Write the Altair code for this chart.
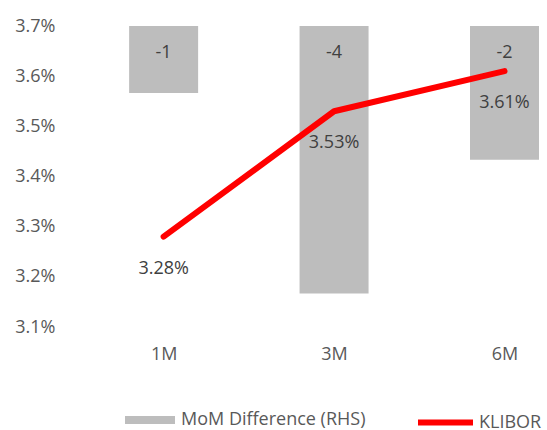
import altair as alt
import pandas as pd

tenors = ["1M", "3M", "6M"]
klibor = [3.28, 3.53, 3.61]
mom_diff = [-1, -4, -2]

FONT = "Open Sans"
AXIS_GREY = "#595959"
TEXT_DARK = "#404040"
FS = 18

df = pd.DataFrame({
    "idx": list(range(len(tenors))),
    "tenor": tenors,
    "klibor": klibor,
    "mom": mom_diff,
})
df["zero"] = 0
df["klibor_label"] = [f"{v:.2f}%" for v in klibor]
df["mom_label"] = [str(v) for v in mom_diff]
df["bar_series"] = "MoM Difference (RHS)"
df["line_series"] = "KLIBOR"

label_expr = "[" + ",".join(f"'{t}'" for t in tenors) + "][datum.value]"

x_scale = alt.Scale(domain=[-0.52, 2.22], nice=False, zero=False)
x_axis = alt.Axis(values=list(range(len(tenors))), labelExpr=label_expr, title=None,
                  grid=False, domain=False, ticks=False, labelPadding=18,
                  labelFont=FONT, labelFontSize=FS, labelColor=AXIS_GREY)
x_enc = alt.X("idx:Q", scale=x_scale, axis=x_axis)

rhs_scale = alt.Scale(domain=[-4.5, 0], nice=False, zero=False)
lhs_scale = alt.Scale(domain=[3.1, 3.7], nice=False, zero=False)

base = alt.Chart(df)

bars = base.mark_bar(size=69).encode(
    x=x_enc,
    y=alt.Y("mom:Q", scale=rhs_scale, axis=None),
    y2=alt.Y2("zero:Q"),
    color=alt.Color("bar_series:N",
                    scale=alt.Scale(domain=["MoM Difference (RHS)"], range=["#BDBDBD"]),
                    legend=alt.Legend(orient="none", legendX=55, legendY=369, title=None,
                                      symbolType="M-1,-0.16H1V0.16H-1Z", symbolSize=2500,
                                      symbolStrokeWidth=0, labelFont=FONT, labelFontSize=FS,
                                      labelColor=AXIS_GREY, labelOffset=6, padding=0,
                                      labelLimit=400)),
)

bar_text = base.mark_text(font=FONT, fontSize=FS, color=TEXT_DARK, dy=27, baseline="middle").encode(
    x=x_enc,
    y=alt.Y("zero:Q", scale=rhs_scale, axis=None),
    text="mom_label:N",
)

line = base.mark_line(strokeWidth=6, strokeCap="round", strokeJoin="round").encode(
    x=x_enc,
    y=alt.Y("klibor:Q", scale=lhs_scale,
            axis=alt.Axis(values=[3.1, 3.2, 3.3, 3.4, 3.5, 3.6, 3.7],
                          labelExpr="format(datum.value, '.1f') + '%'",
                          title=None, grid=False, domain=False, ticks=False, labelPadding=15,
                          labelFont=FONT, labelFontSize=FS, labelColor=AXIS_GREY)),
    stroke=alt.Stroke("line_series:N",
                      scale=alt.Scale(domain=["KLIBOR"], range=["#FF0000"]),
                      legend=alt.Legend(orient="none", legendX=345, legendY=366, title=None,
                                        symbolType="stroke", symbolSize=3025,
                                        symbolStrokeWidth=6, labelFont=FONT, labelFontSize=FS,
                                        labelColor=AXIS_GREY, labelOffset=3, padding=0,
                                        labelLimit=400)),
)

line_text = base.mark_text(font=FONT, fontSize=FS, color=TEXT_DARK, dy=32, baseline="middle").encode(
    x=x_enc,
    y=alt.Y("klibor:Q", scale=lhs_scale, axis=None),
    text="klibor_label:N",
)

chart = alt.layer(bars, bar_text, line, line_text).resolve_scale(
    y="independent"
).properties(
    width=477,
    height=301,
    autosize=alt.AutoSizeParams(type="none"),
    padding={"left": 70, "top": 26, "right": 0, "bottom": 103},
    background="white",
).configure_view(stroke=None)

chart.save("out.html", embed_options={"renderer": "svg", "actions": False})
